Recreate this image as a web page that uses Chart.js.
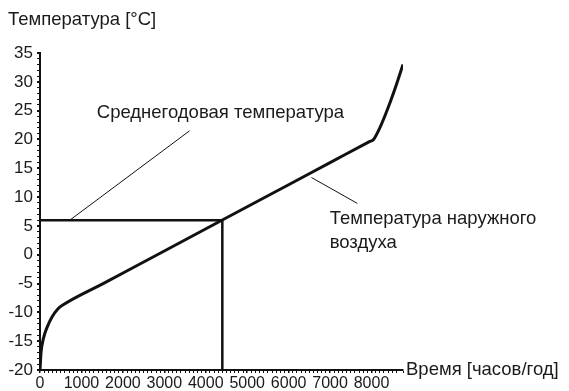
<!DOCTYPE html>
<html>
<head>
<meta charset="utf-8">
<script src="https://cdn.jsdelivr.net/npm/chart.js@4"></script>
<style>
html,body{margin:0;padding:0;background:#fff;}
#wrap{width:569px;height:391px;position:relative;}
</style>
</head>
<body>
<div id="wrap"><canvas id="c"></canvas></div>
<script>
// hours of the year vs outdoor temperature (sorted duration curve)
const HOURS = [0, 25, 80, 170, 290, 430, 560, 1500, 3000, 4400, 6000, 7000, 7950, 8050, 8200, 8400, 8600, 8760];
const TEMPS = [-20, -17, -14.6, -12.6, -10.8, -9.4, -8.69, -5.09, 0.65, 6.02, 12.15, 15.98, 19.62, 20, 22, 25.5, 29.5, 33];

// annual mean temperature guide: horizontal then down to the axis
const MEAN_X = [0, 4400, 4400];
const MEAN_Y = [6, 6, -20];

// leader lines for the two captions
const LEAD1_X = [720, 3610], LEAD1_Y = [6, 21.5];
const LEAD2_X = [6550, 7660], LEAD2_Y = [13.4, 8.9];

const NOTES = [
  {x:1370, y:24.6, t:'Среднегодовая температура'},
  {x:6990, y:6.3, t:'Температура наружного'},
  {x:6990, y:2.1, t:'воздуха'}
];
const Y_TITLE = 'Температура [°C]';
const X_TITLE = 'Время [часов/год]';

const FONT = '"Liberation Sans", Arial, sans-serif';
const pts = (xs,ys)=>xs.map((x,i)=>({x, y:ys[i]}));

const textPlugin = {
  id:'texts',
  afterDraw(chart){
    const {ctx, scales:{x, y}, chartArea:ca} = chart;
    ctx.save();
    ctx.fillStyle = '#1a1a1a';
    ctx.font = '18.5px ' + FONT;
    ctx.textAlign = 'left';
    ctx.textBaseline = 'middle';
    NOTES.forEach(n=>ctx.fillText(n.t, x.getPixelForValue(n.x), y.getPixelForValue(n.y)));
    ctx.fillText(Y_TITLE, 8, 20);
    ctx.fillText(X_TITLE, ca.right + 3, ca.bottom);
    ctx.restore();
  }
};

const line = (data, w) => ({data, borderColor:'#111', borderWidth:w, pointRadius:0,
  fill:false, showLine:true, borderCapStyle:'butt', borderJoinStyle:'miter'});

new Chart(document.getElementById('c'), {
  type:'scatter',
  data:{datasets:[
    Object.assign(line(pts(HOURS, TEMPS), 3), {cubicInterpolationMode:'monotone'}),
    line(pts(MEAN_X, MEAN_Y), 2.5),
    line(pts(LEAD1_X, LEAD1_Y), 1),
    line(pts(LEAD2_X, LEAD2_Y), 1)
  ]},
  options:{
    responsive:true, maintainAspectRatio:false, animation:false,
    layout:{padding:{left:0, top:53, right:166, bottom:0}},
    plugins:{legend:{display:false}, tooltip:{enabled:false}},
    scales:{
      x:{type:'linear', min:0, max:8760,
        afterFit:s=>{s.height = 21;},
        border:{display:true, color:'#111', width:2},
        grid:{drawOnChartArea:false, drawTicks:true, tickLength:3, color:'#111',
          lineWidth:ctx=>(ctx.tick && ctx.tick.value % 1000 === 0) ? 1.5 : 1},
        ticks:{stepSize:100, autoSkip:false, maxRotation:0, padding:1, color:'#1a1a1a',
          font:{family:FONT, size:16},
          callback:v=>(v % 1000 === 0) ? String(v) : ''}
      },
      y:{type:'linear', min:-20, max:35,
        afterFit:s=>{s.width = 40;},
        border:{display:true, color:'#111', width:2},
        grid:{drawOnChartArea:false, drawTicks:true, tickLength:3, color:'#111',
          lineWidth:ctx=>(ctx.tick && ctx.tick.value % 5 === 0) ? 2 : 1},
        ticks:{stepSize:1, autoSkip:false, padding:4, color:'#1a1a1a',
          font:{family:FONT, size:17},
          callback:v=>(v % 5 === 0) ? String(v) : ''}
      }
    }
  },
  plugins:[textPlugin]
});
</script>
</body>
</html>
